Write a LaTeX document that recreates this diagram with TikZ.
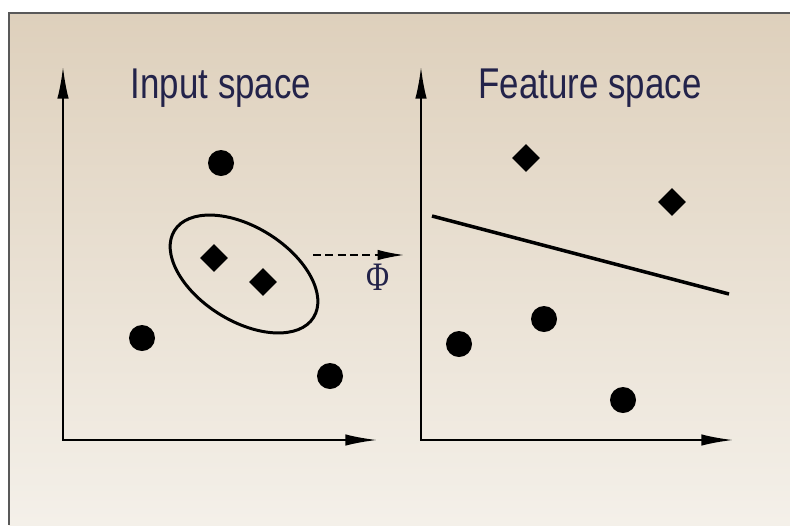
\documentclass[tikz,border=0pt]{standalone}
\usepackage{fontspec}
\setsansfont{Liberation Sans}[FakeStretch=0.81]
\newfontfamily\phifont{Liberation Serif}[FakeStretch=0.78]
\usetikzlibrary{arrows.meta,shapes.geometric}
\definecolor{bgtop}{HTML}{DED0BC}
\definecolor{bgbot}{HTML}{F4F0E9}
\definecolor{ink}{HTML}{23234A}

\begin{document}
\begin{tikzpicture}[
  x=0.02cm, y=-0.02cm,
  title/.style={font=\sffamily\fontsize{24.5}{26}\selectfont, text=ink, anchor=base, inner sep=0pt},
  dot/.style={circle, fill=black, inner sep=0pt, minimum size=0.52cm},
  gem/.style={diamond, fill=black, inner sep=0pt, minimum size=0.56cm},
  axis/.style={{Latex[length=18pt,width=6.5pt]}-{Latex[length=18pt,width=6.5pt]}, line width=1.1pt},
  map/.style={-{Latex[length=15pt,width=6pt]}, dash pattern=on 4.5pt off 2.5pt, line width=0.9pt}
]
\useasboundingbox (0,0) rectangle (790,525);
\shade[top color=bgtop, bottom color=bgbot] (9,13) rectangle (790,525);
\draw[line width=1.2pt, black!65] (9,525) -- (9,13) -- (790,13);

% input space
\coordinate (inY) at (63,67);
\coordinate (inO) at (63,440);
\coordinate (inX) at (377,440);
\draw[axis] (inY) -- (inO) -- (inX);
\node[title] (inT) at (221,98) {Input space};

\node[dot] (a1) at (221,163) {};
\node[dot] (a2) at (142,338) {};
\node[dot] (a3) at (330,376) {};
\node[gem] (b1) at (214,258) {};
\node[gem] (b2) at (263,282) {};
\node[draw, ellipse, line width=1.7pt, inner sep=0pt,
      minimum width=3.28cm, minimum height=1.88cm, rotate=-32] (clus) at (244,274) {};

% mapping
\coordinate (mapA) at (313,255);
\coordinate (mapB) at (404,255);
\draw[map] (mapA) -- (mapB);
\node[font=\phifont\fontsize{23}{24}\selectfont, text=ink, inner sep=0pt] (phi) at (378,277) {Φ};

% feature space
\coordinate (ftY) at (421,67);
\coordinate (ftO) at (421,440);
\coordinate (ftX) at (733,440);
\draw[axis] (ftY) -- (ftO) -- (ftX);
\node[title] (ftT) at (590,98) {Feature space};

\node[gem] (c1) at (526,158) {};
\node[gem] (c2) at (672,202) {};
\node[dot] (d1) at (459,344) {};
\node[dot] (d2) at (544,319) {};
\node[dot] (d3) at (623,400) {};

\coordinate (sepA) at (432,216);
\coordinate (sepB) at (729,294);
\draw[line width=2pt] (sepA) -- (sepB);
\end{tikzpicture}
\end{document}
